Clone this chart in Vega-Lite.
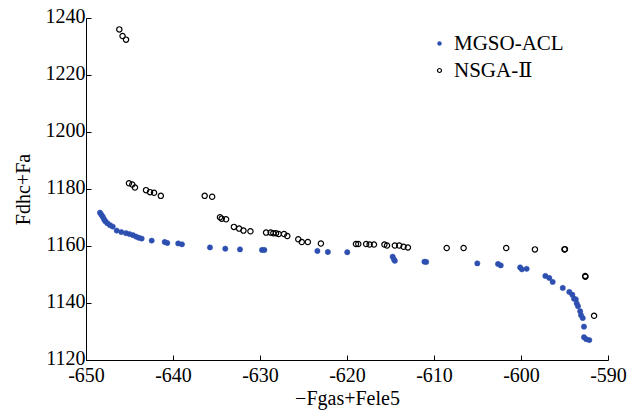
{
  "$schema": "https://vega.github.io/schema/vega-lite/v6.json",
  "width": 522,
  "height": 342,
  "autosize": "none",
  "padding": {"left": 86, "top": 18, "right": 22, "bottom": 55},
  "background": "white",
  "config": {
    "view": {"stroke": null},
    "font": "'Liberation Serif', 'DejaVu Serif', serif",
    "axis": {
      "domainColor": "black",
      "domainWidth": 1,
      "tickColor": "black",
      "tickWidth": 1,
      "tickSize": -5,
      "grid": false,
      "labelFlush": false,
      "labelOverlap": false,
      "labelFont": "'Liberation Serif', 'DejaVu Serif', serif",
      "labelFontSize": 20,
      "labelColor": "black",
      "labelExpr": "toString(datum.value)",
      "titleFont": "'Liberation Serif', 'DejaVu Serif', serif",
      "titleFontSize": 20,
      "titleFontWeight": "normal",
      "titleColor": "black"
    },
    "legend": {
      "labelFont": "'Liberation Serif', 'DejaVu Serif', serif",
      "labelFontSize": 21,
      "labelColor": "black",
      "labelLimit": 300
    }
  },
  "data": {
    "values": [
      {"series": "MGSO-ACL", "x": -648.39, "y": 1171.7},
      {"series": "MGSO-ACL", "x": -648.24, "y": 1171.0},
      {"series": "MGSO-ACL", "x": -648.08, "y": 1170.3},
      {"series": "MGSO-ACL", "x": -647.93, "y": 1169.4},
      {"series": "MGSO-ACL", "x": -647.78, "y": 1168.7},
      {"series": "MGSO-ACL", "x": -647.55, "y": 1168.0},
      {"series": "MGSO-ACL", "x": -647.24, "y": 1167.3},
      {"series": "MGSO-ACL", "x": -646.93, "y": 1166.8},
      {"series": "MGSO-ACL", "x": -646.47, "y": 1165.4},
      {"series": "MGSO-ACL", "x": -645.94, "y": 1164.9},
      {"series": "MGSO-ACL", "x": -645.4, "y": 1164.5},
      {"series": "MGSO-ACL", "x": -645.0, "y": 1164.2},
      {"series": "MGSO-ACL", "x": -644.6, "y": 1163.8},
      {"series": "MGSO-ACL", "x": -644.25, "y": 1163.3},
      {"series": "MGSO-ACL", "x": -643.94, "y": 1162.9},
      {"series": "MGSO-ACL", "x": -643.6, "y": 1162.6},
      {"series": "MGSO-ACL", "x": -642.45, "y": 1161.9},
      {"series": "MGSO-ACL", "x": -640.95, "y": 1161.4},
      {"series": "MGSO-ACL", "x": -640.66, "y": 1161.05},
      {"series": "MGSO-ACL", "x": -639.4, "y": 1160.9},
      {"series": "MGSO-ACL", "x": -638.97, "y": 1160.6},
      {"series": "MGSO-ACL", "x": -635.75, "y": 1159.5},
      {"series": "MGSO-ACL", "x": -633.99, "y": 1159.05},
      {"series": "MGSO-ACL", "x": -632.3, "y": 1158.8},
      {"series": "MGSO-ACL", "x": -629.77, "y": 1158.6},
      {"series": "MGSO-ACL", "x": -629.5, "y": 1158.6},
      {"series": "MGSO-ACL", "x": -623.4, "y": 1158.25},
      {"series": "MGSO-ACL", "x": -622.2, "y": 1157.9},
      {"series": "MGSO-ACL", "x": -619.97, "y": 1157.8},
      {"series": "MGSO-ACL", "x": -614.75, "y": 1156.25},
      {"series": "MGSO-ACL", "x": -614.6, "y": 1155.3},
      {"series": "MGSO-ACL", "x": -614.5, "y": 1154.8},
      {"series": "MGSO-ACL", "x": -611.1, "y": 1154.5},
      {"series": "MGSO-ACL", "x": -610.9, "y": 1154.4},
      {"series": "MGSO-ACL", "x": -605.02, "y": 1153.9},
      {"series": "MGSO-ACL", "x": -602.64, "y": 1153.7},
      {"series": "MGSO-ACL", "x": -602.33, "y": 1153.2},
      {"series": "MGSO-ACL", "x": -600.1, "y": 1152.5},
      {"series": "MGSO-ACL", "x": -599.9, "y": 1151.8},
      {"series": "MGSO-ACL", "x": -599.35, "y": 1152.0},
      {"series": "MGSO-ACL", "x": -597.2, "y": 1149.5},
      {"series": "MGSO-ACL", "x": -596.75, "y": 1148.8},
      {"series": "MGSO-ACL", "x": -596.36, "y": 1147.4},
      {"series": "MGSO-ACL", "x": -595.2, "y": 1145.3},
      {"series": "MGSO-ACL", "x": -594.45, "y": 1143.9},
      {"series": "MGSO-ACL", "x": -594.1, "y": 1142.9},
      {"series": "MGSO-ACL", "x": -593.9, "y": 1141.5},
      {"series": "MGSO-ACL", "x": -593.7, "y": 1141.3},
      {"series": "MGSO-ACL", "x": -593.6, "y": 1139.9},
      {"series": "MGSO-ACL", "x": -593.45, "y": 1138.9},
      {"series": "MGSO-ACL", "x": -593.2, "y": 1137.1},
      {"series": "MGSO-ACL", "x": -593.1, "y": 1135.7},
      {"series": "MGSO-ACL", "x": -592.9, "y": 1134.7},
      {"series": "MGSO-ACL", "x": -592.76, "y": 1131.7},
      {"series": "MGSO-ACL", "x": -592.76, "y": 1128.0},
      {"series": "MGSO-ACL", "x": -592.5, "y": 1127.3},
      {"series": "MGSO-ACL", "x": -592.15, "y": 1127.0},
      {"series": "NSGA-Ⅱ", "x": -646.17, "y": 1236.0},
      {"series": "NSGA-Ⅱ", "x": -645.8, "y": 1233.7},
      {"series": "NSGA-Ⅱ", "x": -645.4, "y": 1232.4},
      {"series": "NSGA-Ⅱ", "x": -645.06, "y": 1182.0},
      {"series": "NSGA-Ⅱ", "x": -644.68, "y": 1181.6},
      {"series": "NSGA-Ⅱ", "x": -644.37, "y": 1180.5},
      {"series": "NSGA-Ⅱ", "x": -643.1, "y": 1179.6},
      {"series": "NSGA-Ⅱ", "x": -642.64, "y": 1178.9},
      {"series": "NSGA-Ⅱ", "x": -642.18, "y": 1178.7},
      {"series": "NSGA-Ⅱ", "x": -641.4, "y": 1177.6},
      {"series": "NSGA-Ⅱ", "x": -636.36, "y": 1177.6},
      {"series": "NSGA-Ⅱ", "x": -635.5, "y": 1177.3},
      {"series": "NSGA-Ⅱ", "x": -634.6, "y": 1170.07},
      {"series": "NSGA-Ⅱ", "x": -634.4, "y": 1169.6},
      {"series": "NSGA-Ⅱ", "x": -633.9, "y": 1169.4},
      {"series": "NSGA-Ⅱ", "x": -633.0, "y": 1166.7},
      {"series": "NSGA-Ⅱ", "x": -632.4, "y": 1166.1},
      {"series": "NSGA-Ⅱ", "x": -631.9, "y": 1165.4},
      {"series": "NSGA-Ⅱ", "x": -631.1, "y": 1165.2},
      {"series": "NSGA-Ⅱ", "x": -629.3, "y": 1164.7},
      {"series": "NSGA-Ⅱ", "x": -628.77, "y": 1164.7},
      {"series": "NSGA-Ⅱ", "x": -628.47, "y": 1164.5},
      {"series": "NSGA-Ⅱ", "x": -628.16, "y": 1164.5},
      {"series": "NSGA-Ⅱ", "x": -627.85, "y": 1164.2},
      {"series": "NSGA-Ⅱ", "x": -627.24, "y": 1164.2},
      {"series": "NSGA-Ⅱ", "x": -626.86, "y": 1163.5},
      {"series": "NSGA-Ⅱ", "x": -625.6, "y": 1162.35},
      {"series": "NSGA-Ⅱ", "x": -625.2, "y": 1161.4},
      {"series": "NSGA-Ⅱ", "x": -624.5, "y": 1161.4},
      {"series": "NSGA-Ⅱ", "x": -623.0, "y": 1160.9},
      {"series": "NSGA-Ⅱ", "x": -618.97, "y": 1160.7},
      {"series": "NSGA-Ⅱ", "x": -618.7, "y": 1160.7},
      {"series": "NSGA-Ⅱ", "x": -617.8, "y": 1160.7},
      {"series": "NSGA-Ⅱ", "x": -617.4, "y": 1160.5},
      {"series": "NSGA-Ⅱ", "x": -616.9, "y": 1160.5},
      {"series": "NSGA-Ⅱ", "x": -615.7, "y": 1160.5},
      {"series": "NSGA-Ⅱ", "x": -615.4, "y": 1160.2},
      {"series": "NSGA-Ⅱ", "x": -614.5, "y": 1160.2},
      {"series": "NSGA-Ⅱ", "x": -614.0, "y": 1160.2},
      {"series": "NSGA-Ⅱ", "x": -613.5, "y": 1159.75},
      {"series": "NSGA-Ⅱ", "x": -613.0, "y": 1159.5},
      {"series": "NSGA-Ⅱ", "x": -608.54, "y": 1159.3},
      {"series": "NSGA-Ⅱ", "x": -606.6, "y": 1159.3},
      {"series": "NSGA-Ⅱ", "x": -601.7, "y": 1159.3},
      {"series": "NSGA-Ⅱ", "x": -598.4, "y": 1158.8},
      {"series": "NSGA-Ⅱ", "x": -595.0, "y": 1158.8},
      {"series": "NSGA-Ⅱ", "x": -594.95, "y": 1158.9},
      {"series": "NSGA-Ⅱ", "x": -592.6, "y": 1149.2},
      {"series": "NSGA-Ⅱ", "x": -592.62, "y": 1149.5},
      {"series": "NSGA-Ⅱ", "x": -591.6, "y": 1135.5}
    ]
  },
  "mark": {"type": "point", "shape": "circle", "opacity": 1, "size": 28},
  "encoding": {
    "x": {
      "field": "x",
      "type": "quantitative",
      "scale": {"domain": [-650, -590], "nice": false, "zero": false},
      "axis": {"values": [-650, -640, -630, -620, -610, -600, -590], "title": "−Fgas+Fele5", "labelPadding": 10, "titlePadding": 3}
    },
    "y": {
      "field": "y",
      "type": "quantitative",
      "scale": {"domain": [1120, 1240], "nice": false, "zero": false},
      "axis": {"values": [1120, 1140, 1160, 1180, 1200, 1220, 1240], "title": "Fdhc+Fa", "labelPadding": 6, "labelOffset": -2, "titlePadding": 12}
    },
    "fill": {
      "field": "series",
      "type": "nominal",
      "scale": {"domain": ["MGSO-ACL", "NSGA-Ⅱ"], "range": ["#2d4fb0", "transparent"]},
      "legend": {"title": null, "orient": "none", "legendX": 343, "legendY": 15, "rowPadding": 5, "symbolType": "circle", "symbolSize": 16}
    },
    "stroke": {
      "field": "series",
      "type": "nominal",
      "scale": {"domain": ["MGSO-ACL", "NSGA-Ⅱ"], "range": ["#2d4fb0", "black"]}
    },
    "strokeWidth": {
      "field": "series",
      "type": "nominal",
      "scale": {"domain": ["MGSO-ACL", "NSGA-Ⅱ"], "range": [0.5, 1.2]}
    }
  }
}
